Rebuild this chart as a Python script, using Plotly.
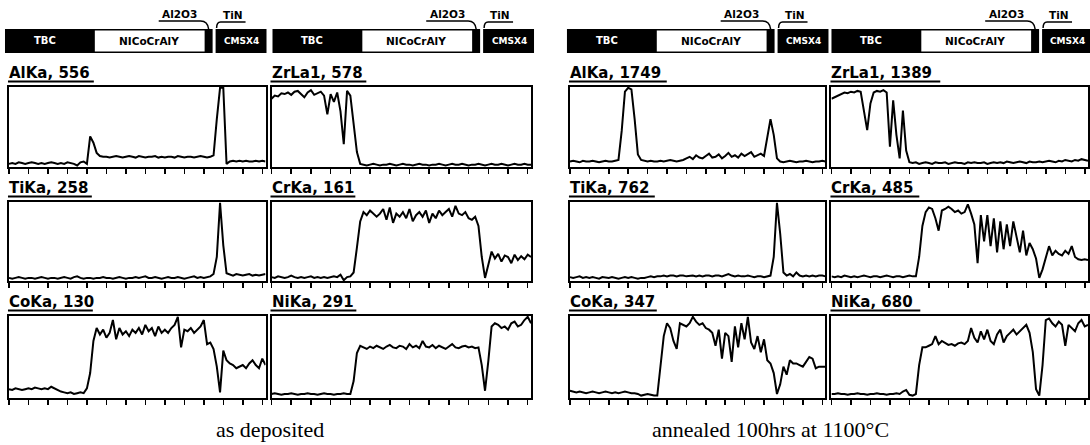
import plotly.graph_objects as go

W, H = 1090, 445

# ---------------- data (signal as % of full scale, 80 points along the scan) -------------
titles = ["AlKa, 556", "ZrLa1, 578", "AlKa, 1749", "ZrLa1, 1389",
          "TiKa, 258", "CrKa, 161", "TiKa, 762", "CrKa, 485",
          "CoKa, 130", "NiKa, 291", "CoKa, 347", "NiKa, 680"]

al_dep = [3,4,3,5,4,3,4,5,4,3, 4,3,4,5,4,3,4,3,5,4, 3,1,5,6,3, 38,30,17,
          13,12,12,11,12,13,12,11,12,13, 12,11,13,12,11,12,12,13,11,12,
          11,12,12,11,13,12,11,12,12,11, 12,13,12,11,12,14, 60,100,100,
          3,6,7,6,7,6,7,6,6,7,6,7,6]
zr_dep = [86,90,89,93,92,94,91,95,96,92,88,94,97,91,93,95,
          90,66,92,82,94,70,28,96,90,55,18,3,
          2,1,2,3,2,1,2,2,3,2, 1,2,3,2,2,1,2,3,2,2, 1,2,2,3,2,1,2,3,2,2,
          3,2,1,2,2,3,2,1,2,3, 2,2,3,2,1,2,3,2,2,3, 2,2]
ti_dep = [3,2,3,4,3,2,3,3,2,3, 4,3,2,3,3,2,3,4,3,2, 4,5,3,2,3,3,2,3,3,4,
          3,3,2,3,4,3,2,3,3,4, 3,4,5,3,3,4,3,2,3,4, 3,3,4,3,2,3,4,5,3,4,
          3,4,5, 8,30,100,45,9, 7,6,8,7,6,7,8,6,7,6,7,8]
cr_dep = [4,3,5,4,3,4,6,4,3,4, 3,4,5,3,4,3,4,3,4,5, 4, 7,0,4,5,10, 42,76,
          88,84,90,86,82,86,92,78,94,74, 86,82,88,80,92,76,84,88,82,90,
          74,86,80,90,84,88,92,82,96,86, 84,88,80,78,82,
          70,30,3,20,37, 28,34,24,32,30,22,33,26,31,27,33,30]
co_dep = [10,9,11,10,9,10,11,10,12,11, 10,11,10,13,11,
          8,7,6,5,6,4,5,6,5,11, 30,70,86,
          78,84,74,80,96,72,86,78,82,76, 84,80,86,78,90,82,86,76,88,80,
          84,80,86,90,100,62,84,82,86,80, 84,88,96,66,68,60,
          38,6,58,46, 42,40,36,38,40,36,42,46,40,36,48,40]
ni_dep = [4,5,4,3,4,4,5,4,3,4, 4,5,4,4,3,4,5,4,4,3, 4,4,5,4,4, 20,55,64,
          62,60,63,61,64,62,60,63,65,62, 61,64,63,60,66,62,64,61,70,63,
          62,65,61,64,62,60,63,66,62,61, 63,64,62,63,61,62,
          40,8,45,88, 92,90,86,88,84,92,94,88,90,96,100,92]
al_ann = [6,7,6,5,7,6,6,7,6,5,6,7,6,6,7,8, 45,95,100,98,60,15,8,
          7,6,7,6,6,7,6,7,8,7,6,7,8,
          10,12,9,14,11,10,13,16,11,12, 15,10,13,17,12,14,11,16,13,15, 18,12,14,16,13,
          35,60,40,10, 6,5,6,7,6,5,6,6,7,6,5,6,6,7,6]
zr_ann = [86,88,90,92,94,93,95,94,96,95, 70,46,80,94, 96,95,97,94,
          25,84,40,10,71,20,5,
          4,5,3,4,5,4,3,5,4,4, 5,3,4,5,4,4,3,5,4,5, 4,4,5,3,4,5,4,5,4,6,
          5,4,5,6,5,4,6,5,5,6, 5,6,7,6,5,7,6,8,7,6, 8,7,9,8,7]
ti_ann = [4,3,4,5,3,4,3,4,3,2, 4,3,3,4,3,2,3,4,3,4, 3,2,3,3,4,5,4,5,5,
          6,5,6,6,5,6,6,5,6,6, 5,6,5,6,6,5,6,6,5,7, 8,6,5,6,5,5,6,5,4,5, 5,4,5,6,
          30,100,60,10,6, 8,5,10,6,5,6,5,6,5,6,6,5]
cr_ann = [5,4,5,4,6,5,4,5,4,5, 6,5,4,5,5,4,5,6,5,4, 5,5,4,5,6,5,5,
          30,70,88,94,92,80,64,90,92,95,92,88,90,86,88,98,86,72,22,84,50,84,
          44,80,36,76,40,72,44,76,56,36,64,32,48,40,28,3,14,30,44,32,38,34,
          32,38,34,44,30,27,26,27,26]
co_ann = [8,7,6,7,6,5,6,7,6,5, 6,7,6,5,6,5,6,7,6,5, 5,4,2,3,4,3,2,2,
          40,76,92,86,70,60,92,90,88,92,100,94,90,92,86,84,80,64,84,48,
          80,76,44,88,62,92,72,100,68,60,76,56,72,46,42,30,4,16,38,28,
          46,42,42,40,38,44,50,48,36,38,38,38]
ni_ann = [4,4,5,4,4,3,4,4,5,4, 4,3,4,4,5,4,4,3,4,4, 5,4,
          7,9,3,2,4,40,62,62,64,66,76,66,70,67,65,66,64,67,68,66,70,86,74,68,
          82,72,84,70,66,78,84,68,76,80,84,78,82,86,90,80,56,10,2,40,
          96,98,92,88,94,90,64,90,86,82,92,96,88,90]

series = [al_dep, zr_dep, al_ann, zr_ann,
          ti_dep, cr_dep, ti_ann, cr_ann,
          co_dep, ni_dep, co_ann, ni_ann]

layer_labels = ["TBC", "NICoCrAlY", "CMSX4"]
oxide_labels = ["Al2O3", "TiN"]
captions = ["as deposited", "annealed 100hrs at 1100°C"]

# ---------------- layout geometry (pixels) ----------------
cols_x = [(9, 266), (272, 532), (571, 827), (833, 1090)]
rows_y = [(87, 167), (202, 281), (316, 398)]
header_x = [5, 273, 568, 833]
underline_w = [86, 96, 98, 110, 84, 85, 86, 89, 85, 86, 88, 90]


def px(x):
    return x / W


def py(y):
    return 1 - y / H


fig = go.Figure()
shapes = []
annotations = []

for i, vals in enumerate(series):
    r, c = divmod(i, 4)
    x0, x1 = cols_x[c]
    y0, y1 = rows_y[r]
    sfx = "" if i == 0 else str(i + 1)
    fig.add_trace(go.Scatter(
        x=list(range(len(vals))), y=vals, mode="lines",
        line=dict(color="black", width=2),
        xaxis="x" + sfx, yaxis="y" + sfx, showlegend=False, hoverinfo="skip"))
    fig.layout["xaxis" + sfx] = dict(
        domain=[px(x0), px(x1)], range=[0, len(vals) - 1], anchor="y" + sfx,
        showline=True, mirror=True, linecolor="black", linewidth=2,
        ticks="outside", ticklen=5, tickwidth=1.5, tickcolor="black",
        tickvals=list(range(0, 80, 6)), showticklabels=False,
        showgrid=False, zeroline=False, fixedrange=True)
    fig.layout["yaxis" + sfx] = dict(
        domain=[py(y1), py(y0)], range=[-1, 101], anchor="x" + sfx,
        showline=True, mirror=True, linecolor="black", linewidth=2,
        ticks="", showticklabels=False, showgrid=False, zeroline=False,
        fixedrange=True)
    tx = x0 - 1
    annotations.append(dict(
        text=titles[i], x=px(tx - 1), y=py(y0 - 14), xref="paper", yref="paper",
        xanchor="left", yanchor="middle", showarrow=False,
        font=dict(family="DejaVu Sans", size=15, color="black", weight="bold")))
    shapes.append(dict(type="line", xref="paper", yref="paper",
                       x0=px(tx), x1=px(tx + underline_w[i]),
                       y0=py(y0 - 5.5), y1=py(y0 - 5.5),
                       line=dict(color="black", width=2)))

# ---------------- layer headers ----------------
for k, S in enumerate(header_x):
    shapes.append(dict(type="rect", xref="paper", yref="paper",
                       x0=px(S), x1=px(S + 262), y0=py(53), y1=py(29),
                       fillcolor="black", line=dict(width=0)))
    shapes.append(dict(type="rect", xref="paper", yref="paper",
                       x0=px(S + 90), x1=px(S + 200), y0=py(51.5), y1=py(30.5),
                       fillcolor="white", line=dict(width=0)))
    shapes.append(dict(type="rect", xref="paper", yref="paper",
                       x0=px(S + 208), x1=px(S + 211), y0=py(53), y1=py(28),
                       fillcolor="white", line=dict(width=0)))
    # Al2O3 bracket
    path_al = (f"M {px(S + 154)},{py(21)} L {px(S + 196)},{py(21)} "
               f"Q {px(S + 203)},{py(21)} {px(S + 204)},{py(29)}")
    shapes.append(dict(type="path", xref="paper", yref="paper", path=path_al,
                       line=dict(color="black", width=1.5)))
    # TiN bracket
    path_ti = (f"M {px(S + 241)},{py(22)} L {px(S + 216)},{py(22)} "
               f"Q {px(S + 212)},{py(22)} {px(S + 212)},{py(28)}")
    shapes.append(dict(type="path", xref="paper", yref="paper", path=path_ti,
                       line=dict(color="black", width=1.5)))
    cms_x = S + 237 if k < 3 else 1089
    cms_anchor = "center" if k < 3 else "right"
    annotations += [
        dict(text=layer_labels[0], x=px(S + 40), y=py(41), xref="paper", yref="paper",
             showarrow=False, xanchor="center", yanchor="middle",
             font=dict(family="DejaVu Sans", size=10, color="white", weight="bold")),
        dict(text=layer_labels[1], x=px(S + 144), y=py(41), xref="paper", yref="paper",
             showarrow=False, xanchor="center", yanchor="middle",
             font=dict(family="DejaVu Sans", size=10.5, color="black", weight="bold")),
        dict(text=layer_labels[2], x=px(cms_x), y=py(41), xref="paper", yref="paper",
             showarrow=False, xanchor=cms_anchor, yanchor="middle",
             font=dict(family="DejaVu Sans", size=9, color="white", weight="bold")),
        dict(text=oxide_labels[0], x=px(S + 175), y=py(14), xref="paper", yref="paper",
             showarrow=False, xanchor="center", yanchor="middle",
             font=dict(family="DejaVu Sans", size=10.5, color="black", weight="bold")),
        dict(text=oxide_labels[1], x=px(S + 228), y=py(15), xref="paper", yref="paper",
             showarrow=False, xanchor="center", yanchor="middle",
             font=dict(family="DejaVu Sans", size=10.5, color="black", weight="bold")),
    ]

# ---------------- captions ----------------
for cx, txt in zip([270, 772], captions):
    annotations.append(dict(text=txt, x=px(cx), y=py(429), xref="paper", yref="paper",
                            showarrow=False, xanchor="center", yanchor="middle",
                            font=dict(family="Liberation Serif", size=22, color="black")))

fig.update_layout(width=W, height=H, margin=dict(l=0, r=0, t=0, b=0),
                  paper_bgcolor="white", plot_bgcolor="white",
                  shapes=shapes, annotations=annotations)

fig.write_html("out.html", config={"displayModeBar": False, "staticPlot": True},
               post_script="document.body.style.margin='0';document.body.style.overflow='hidden';")
